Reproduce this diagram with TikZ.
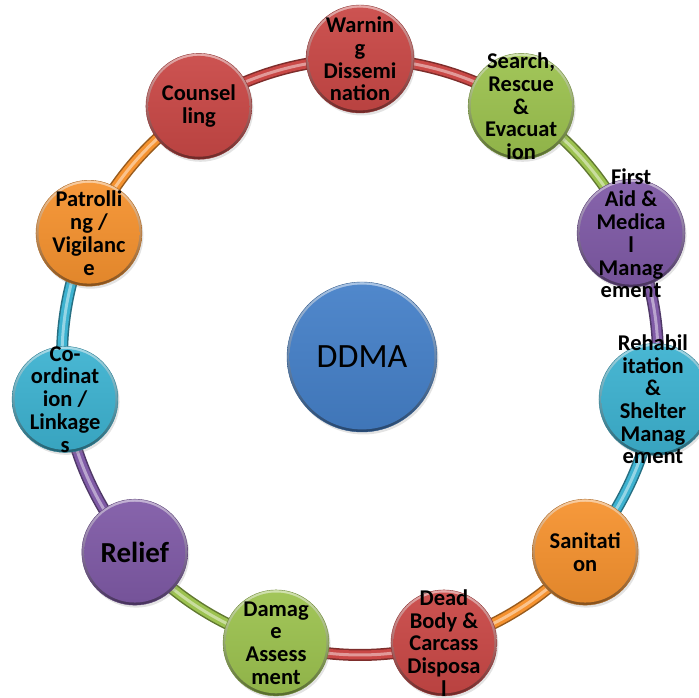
\documentclass[tikz,border=0pt]{standalone}
\usepackage{fontspec}
\setmainfont{Carlito}
\usetikzlibrary{shadows}
\pgfdeclarelayer{bg}
\pgfsetlayers{bg,main}
\definecolor{oRed}{HTML}{C94846}
\definecolor{oGreen}{HTML}{9CC24F}
\definecolor{oPurple}{HTML}{7F5AA6}
\definecolor{oAqua}{HTML}{3DB2D0}
\definecolor{oOrange}{HTML}{F5922F}
\definecolor{oBlue}{HTML}{4580C8}
\tikzset{
  ball/.style n args={2}{circle, inner sep=0pt, minimum size=2*#2, draw=#1!70!black, line width=0.4pt,
    drop shadow={shadow xshift=1.5pt, shadow yshift=-2.5pt, opacity=0.22},
    path picture={
      \shade[top color=#1!45!white, bottom color=#1!55!black]
        (path picture bounding box.south west) rectangle (path picture bounding box.north east);
      \shade[top color=#1!94!white, bottom color=#1!92!black]
        (path picture bounding box.center) circle[radius=#2-2.6pt];
    }},
  lbl/.style={align=center, inner sep=0pt, font=\bfseries\fontsize{22.5}{22.7}\selectfont},
  tube/.style={line width=12pt, draw=#1!62!black,
    postaction={draw=#1, line width=9pt},
    postaction={draw=#1!55!white, line width=3pt}},
}
\begin{document}
\begin{tikzpicture}[x=1pt,y=1pt]
\useasboundingbox (0,0) rectangle (699,698);
\coordinate (C) at (360,341);
% centre hub
\node[ball={oBlue}{75pt}] (hub) at (362,341) {};
\node[inner sep=0pt, font=\fontsize{34}{40}\selectfont] (hubt) at (hub) {DDMA};
% ring of activities
\node[ball={oRed}{54pt}]    (n0)  at ([shift={(90:298)}]C) {};
\node[ball={oGreen}{53pt}]  (n1)  at ([shift={(57.2727:298)}]C) {};
\node[ball={oPurple}{54pt}] (n2)  at ([shift={(24.5455:298)}]C) {};
\node[ball={oAqua}{56pt}]   (n3)  at ([shift={(-8.1818:298)}]C) {};
\node[ball={oOrange}{53pt}] (n4)  at ([shift={(-40.9091:298)}]C) {};
\node[ball={oRed}{53pt}]    (n5)  at ([shift={(-73.6364:298)}]C) {};
\node[ball={oGreen}{53pt}]  (n6)  at ([shift={(-106.3636:298)}]C) {};
\node[ball={oPurple}{53pt}] (n7)  at ([shift={(-139.0909:298)}]C) {};
\node[ball={oAqua}{53pt}]   (n8)  at ([shift={(-171.8182:298)}]C) {};
\node[ball={oOrange}{53pt}] (n9)  at ([shift={(-204.5455:298)}]C) {};
\node[ball={oRed}{53pt}]    (n10) at ([shift={(-237.2727:298)}]C) {};
% labels
\node[lbl] (t0)  at (n0)  {Warnin\\g\\Dissemi\\nation};
\node[lbl] (t1)  at (n1)  {Search,\\Rescue\\\&\\Evacuat\\ion};
\node[lbl] (t2)  at (n2)  {First\\Aid \&\\Medica\\l\\Manag\\ement};
\node[lbl] (t3)  at ([xshift=-2pt]n3) {Rehabil\\itation\\\&\\Shelter\\Manag\\ement};
\node[lbl] (t4)  at (n4)  {Sanitati\\on};
\node[lbl] (t5)  at (n5)  {Dead\\Body \&\\Carcass\\Disposa\\l};
\node[lbl] (t6)  at (n6)  {Damag\\e\\Assess\\ment};
\node[lbl, font=\bfseries\fontsize{29}{32}\selectfont] (t7) at (n7) {Relief};
\node[lbl] (t8)  at (n8)  {Co-\\ordinat\\ion /\\Linkage\\s};
\node[lbl] (t9)  at (n9)  {Patrolli\\ng /\\Vigilanc\\e};
\node[lbl] (t10) at (n10) {Counsel\\ling};
% connecting tubes along the ring
\begin{pgfonlayer}{bg}
\foreach \k/\c in {0/oRed,1/oGreen,2/oPurple,3/oAqua,4/oOrange,5/oRed,6/oGreen,7/oPurple,8/oAqua,9/oOrange,10/oRed}{
  \pgfmathsetmacro\a{90-\k*360/11}
  \draw[tube=\c] (n\k.center) arc[start angle=\a, delta angle=-32.7273, radius=298pt];
}
\end{pgfonlayer}
\end{tikzpicture}
\end{document}
